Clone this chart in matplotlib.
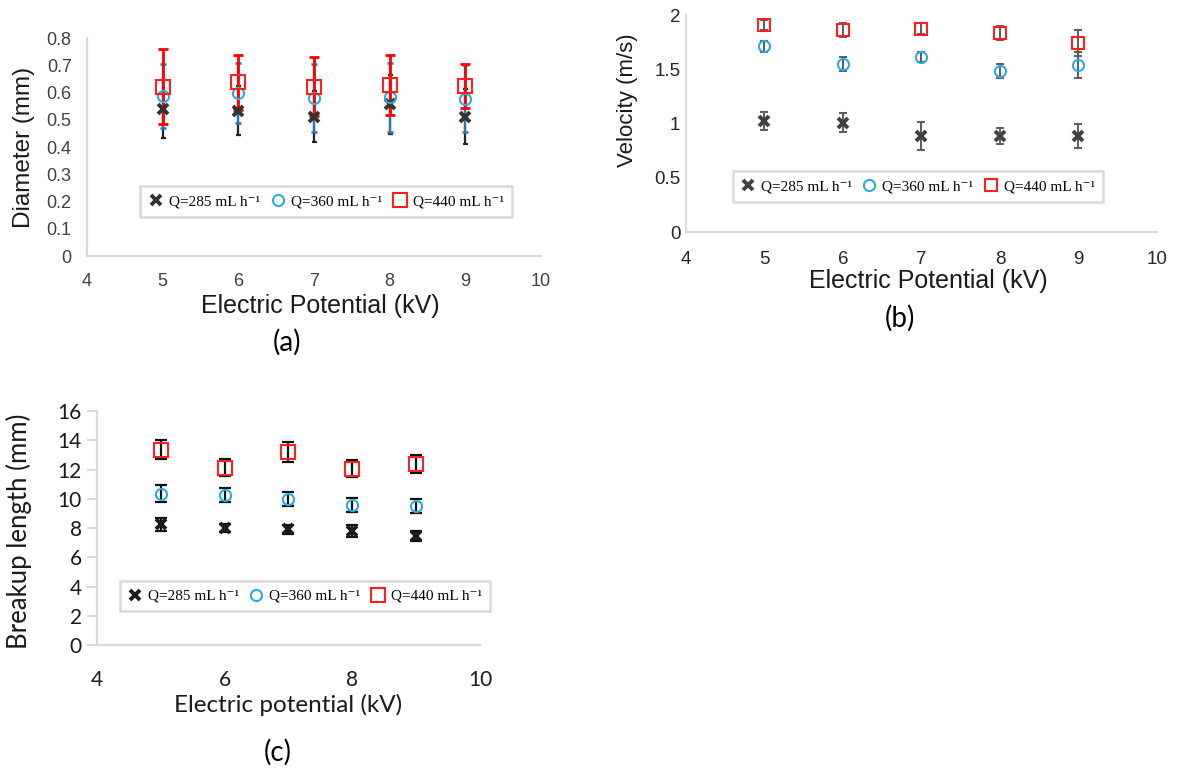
import matplotlib.pyplot as plt

plt.rcParams['font.family'] = 'Liberation Sans'

voltage = [5, 6, 7, 8, 9]
series_labels = ['Q=285 mL h\u207b\u00b9', 'Q=360 mL h\u207b\u00b9', 'Q=440 mL h\u207b\u00b9']

# (a) diameter (mm)
diam_285 = [0.539, 0.533, 0.512, 0.557, 0.512]
diam_285_err = [0.107, 0.09, 0.095, 0.108, 0.10]
diam_360 = [0.588, 0.600, 0.579, 0.582, 0.578]
diam_360_err = [0.117, 0.11, 0.124, 0.127, 0.123]
diam_440 = [0.622, 0.637, 0.622, 0.626, 0.625]
diam_440_err = [0.138, 0.10, 0.108, 0.11, 0.08]

# (b) velocity (m/s)
vel_285 = [1.023, 1.008, 0.885, 0.885, 0.885]
vel_285_err = [0.083, 0.085, 0.125, 0.07, 0.115]
vel_360 = [1.71, 1.548, 1.612, 1.487, 1.536]
vel_360_err = [0.05, 0.065, 0.047, 0.064, 0.12]
vel_440 = [1.908, 1.863, 1.872, 1.832, 1.74]
vel_440_err = [0.046, 0.065, 0.05, 0.065, 0.12]

# (c) breakup length (mm)
blen_285 = [8.26, 8.01, 7.9, 7.78, 7.46]
blen_285_err = [0.45, 0.28, 0.34, 0.4, 0.34]
blen_360 = [10.36, 10.24, 10.01, 9.56, 9.49]
blen_360_err = [0.55, 0.48, 0.47, 0.48, 0.48]
blen_440 = [13.36, 12.13, 13.2, 12.06, 12.36]
blen_440_err = [0.65, 0.6, 0.7, 0.6, 0.6]

BLUE = '#2BABE2'
RED = '#FF1F1F'
SPINE = '#D9D9D9'


def style_axes(ax):
    for s in ['top', 'right']:
        ax.spines[s].set_visible(False)
    for s in ['left', 'bottom']:
        ax.spines[s].set_color(SPINE)
        ax.spines[s].set_linewidth(1.6)


def draw_markers(ax, ys, xcolor, xsize, osize, ssize):
    ax.plot(voltage, ys[0], ls='none', marker='x', ms=xsize, mew=2.8, color=xcolor,
            label=series_labels[0], zorder=5)
    ax.plot(voltage, ys[1], ls='none', marker='o', ms=osize, mew=1.5, mfc='none', mec=BLUE,
            label=series_labels[1], zorder=5)
    ax.plot(voltage, ys[2], ls='none', marker='s', ms=ssize, mew=1.5, mfc='none', mec=RED,
            label=series_labels[2], zorder=5)


def add_legend(ax, box):
    leg = ax.legend(loc='center', bbox_to_anchor=box, mode='expand', ncol=3,
                    prop={'family': ['Liberation Serif', 'DejaVu Serif'], 'size': 11},
                    fancybox=False, framealpha=1, edgecolor=SPINE,
                    handlelength=0.9, handletextpad=0.4, columnspacing=0.8,
                    borderpad=0.55)
    leg.get_frame().set_linewidth(1.8)


fig = plt.figure(figsize=(11.77, 7.70), dpi=100)

# ---- (a) ----
ax = fig.add_axes([0.0739, 0.6675, 0.3857, 0.2831])
style_axes(ax)
ax.errorbar(voltage, diam_285, yerr=diam_285_err, fmt='none', ecolor='#222222',
            elinewidth=1.6, capsize=1.8, capthick=1.6, zorder=2)
ax.errorbar(voltage, diam_360, yerr=diam_360_err, fmt='none', ecolor='#2E75B6',
            elinewidth=1.6, capsize=2.2, capthick=1.8, zorder=3)
ax.errorbar(voltage, diam_440, yerr=diam_440_err, fmt='none', ecolor='#FF0000',
            elinewidth=2.0, capsize=3.8, capthick=2.0, zorder=4)
draw_markers(ax, [diam_285, diam_360, diam_440], '#333333', 7, 8, 9.5)
ax.set_xlim(4, 10)
ax.set_ylim(0, 0.8)
ax.set_xticks(range(4, 11))
ax.set_yticks([0, 0.1, 0.2, 0.3, 0.4, 0.5, 0.6, 0.7, 0.8])
ax.set_yticklabels(['0', '0.1', '0.2', '0.3', '0.4', '0.5', '0.6', '0.7', '0.8'])
ax.tick_params(length=0, labelsize=13, labelcolor='#404040')
ax.tick_params(axis='x', pad=12)
ax.tick_params(axis='y', pad=11)
ax.set_xlabel('Electric Potential (kV)', fontsize=18, color='#1a1a1a', va='center')
ax.xaxis.set_label_coords(0.515, -0.229)
ax.set_ylabel('Diameter (mm)', fontsize=17.5, color='#1a1a1a', va='center')
ax.yaxis.set_label_coords(-0.139, 0.5)
add_legend(ax, (0.101, 0.179, 0.853, 0.142))

# ---- (b) ----
ax = fig.add_axes([0.5828, 0.6987, 0.4002, 0.2818])
style_axes(ax)
for ys, errs in [(vel_285, vel_285_err), (vel_360, vel_360_err), (vel_440, vel_440_err)]:
    ax.errorbar(voltage, ys, yerr=errs, fmt='none', ecolor='#5f5f5f',
                elinewidth=1.5, capsize=3.0, capthick=1.5, zorder=3)
draw_markers(ax, [vel_285, vel_360, vel_440], '#404040', 7, 8, 8.5)
ax.set_xlim(4, 10)
ax.set_ylim(0, 2)
ax.set_xticks(range(4, 11))
ax.set_yticks([0, 0.5, 1, 1.5, 2])
ax.set_yticklabels(['0', '0.5', '1', '1.5', '2'])
ax.tick_params(length=0, labelsize=13.5, labelcolor='#262626')
ax.tick_params(axis='x', pad=14)
ax.tick_params(axis='y', pad=4)
ax.set_xlabel('Electric Potential (kV)', fontsize=18, color='#1a1a1a', va='center')
ax.xaxis.set_label_coords(0.514, -0.226)
ax.set_ylabel('Velocity (m/s)', fontsize=16, color='#1a1a1a', va='center')
ax.yaxis.set_label_coords(-0.125, 0.608)
add_legend(ax, (0.083, 0.138, 0.819, 0.143))

# ---- (c) ----
ax = fig.add_axes([0.0824, 0.1623, 0.3254, 0.3039])
style_axes(ax)
for ys, errs in [(blen_285, blen_285_err), (blen_360, blen_360_err), (blen_440, blen_440_err)]:
    ax.errorbar(voltage, ys, yerr=errs, fmt='none', ecolor='#111111',
                elinewidth=1.6, capsize=4.3, capthick=1.6, zorder=3)
draw_markers(ax, [blen_285, blen_360, blen_440], '#1a1a1a', 7, 8, 9.5)
ax.set_xlim(4, 10)
ax.set_ylim(0, 16)
ax.set_xticks([4, 6, 8, 10])
ax.set_yticks(range(0, 17, 2))
ax.tick_params(axis='x', length=0, pad=18)
ax.tick_params(axis='y', length=7, width=1.4, color=SPINE, pad=4)
for lab in ax.get_xticklabels() + ax.get_yticklabels():
    lab.set_family('Lato')
    lab.set_fontsize(15)
    lab.set_color('#1a1a1a')
ax.set_xlabel('Electric potential (kV)', fontsize=17.5, family='Lato', color='#1a1a1a', va='center')
ax.xaxis.set_label_coords(0.499, -0.256)
ax.set_ylabel('Breakup length (mm)', fontsize=18.5, family='Lato', color='#1a1a1a', va='center')
ax.yaxis.set_label_coords(-0.204, 0.487)
add_legend(ax, (0.039, 0.145, 1.008, 0.129))

# panel captions
fig.text(287 / 1177, 1 - 342 / 770, '(a)', fontsize=20, family='Lato', ha='center', va='center')
fig.text(900 / 1177, 1 - 318 / 770, '(b)', fontsize=20, family='Lato', ha='center', va='center')
fig.text(278 / 1177, 1 - 752 / 770, '(c)', fontsize=20, family='Lato', ha='center', va='center')

fig.savefig('out.png', dpi=100)
